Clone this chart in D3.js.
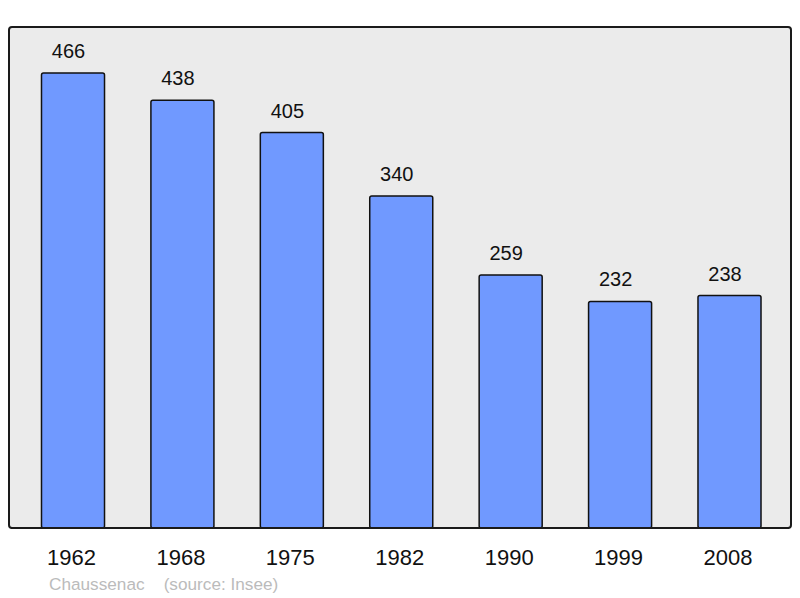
<!DOCTYPE html>
<html>
<head>
<meta charset="utf-8">
<script src="https://cdn.jsdelivr.net/npm/d3@7"></script>
<style>
  body { margin: 0; background: #fff; }
  text { font-family: "Liberation Sans", Arial, sans-serif; }
</style>
</head>
<body>
<div id="chart"></div>
<script>
const years = ["1962", "1968", "1975", "1982", "1990", "1999", "2008"];
const population = [466, 438, 405, 340, 259, 232, 238];
const commune = "Chaussenac";
const source = "(source: Insee)";

const width = 800;
const height = 598;
const frame = { left: 9, top: 27, right: 791, bottom: 528 };

const svg = d3
  .select("#chart")
  .append("svg")
  .attr("width", width)
  .attr("height", height)
  .style("display", "block");

svg
  .append("rect")
  .attr("x", frame.left)
  .attr("y", frame.top)
  .attr("width", frame.right - frame.left)
  .attr("height", frame.bottom - frame.top)
  .attr("rx", 3)
  .attr("fill", "#ebebeb")
  .attr("stroke", "#1a1a1a")
  .attr("stroke-width", 2);

const x = d3
  .scaleBand()
  .domain(years)
  .range([18.3, 784.2])
  .paddingInner(0.424)
  .paddingOuter(0.212);

const y = d3.scaleLinear().domain([0, 466]).range([frame.bottom, 73]);

const data = years.map((yr, i) => ({ year: yr, value: population[i] }));

svg
  .selectAll(".bar")
  .data(data)
  .join("rect")
  .attr("class", "bar")
  .attr("x", (d) => x(d.year))
  .attr("y", (d) => y(d.value))
  .attr("width", x.bandwidth())
  .attr("height", (d) => frame.bottom - y(d.value))
  .attr("rx", 2)
  .attr("fill", "#7099ff")
  .attr("stroke", "#111")
  .attr("stroke-width", 1.5);

// value labels sit a little left of the bar centre, as in the original
svg
  .selectAll(".val")
  .data(data)
  .join("text")
  .attr("class", "val")
  .attr("x", (d) => x(d.year) + x.bandwidth() / 2 - 4.5)
  .attr("y", (d) => y(d.value) - 15)
  .attr("text-anchor", "middle")
  .attr("font-size", 20)
  .attr("fill", "#111")
  .text((d) => d.value);

// redraw the bottom edge of the frame above the bars
svg
  .append("line")
  .attr("x1", frame.left + 2)
  .attr("x2", frame.right - 2)
  .attr("y1", frame.bottom)
  .attr("y2", frame.bottom)
  .attr("stroke", "#1a1a1a")
  .attr("stroke-width", 2);

svg
  .selectAll(".year")
  .data(years)
  .join("text")
  .attr("class", "year")
  .attr("x", (d) => x(d) + x.bandwidth() / 2 - 1.5)
  .attr("y", 565)
  .attr("text-anchor", "middle")
  .attr("font-size", 22)
  .attr("fill", "#111")
  .text((d) => d);

svg
  .append("text")
  .attr("x", 49)
  .attr("y", 590)
  .attr("font-size", 17.2)
  .attr("fill", "#bbbbbb")
  .attr("xml:space", "preserve")
  .style("white-space", "pre")
  .text(commune + "    " + source);
</script>
</body>
</html>
